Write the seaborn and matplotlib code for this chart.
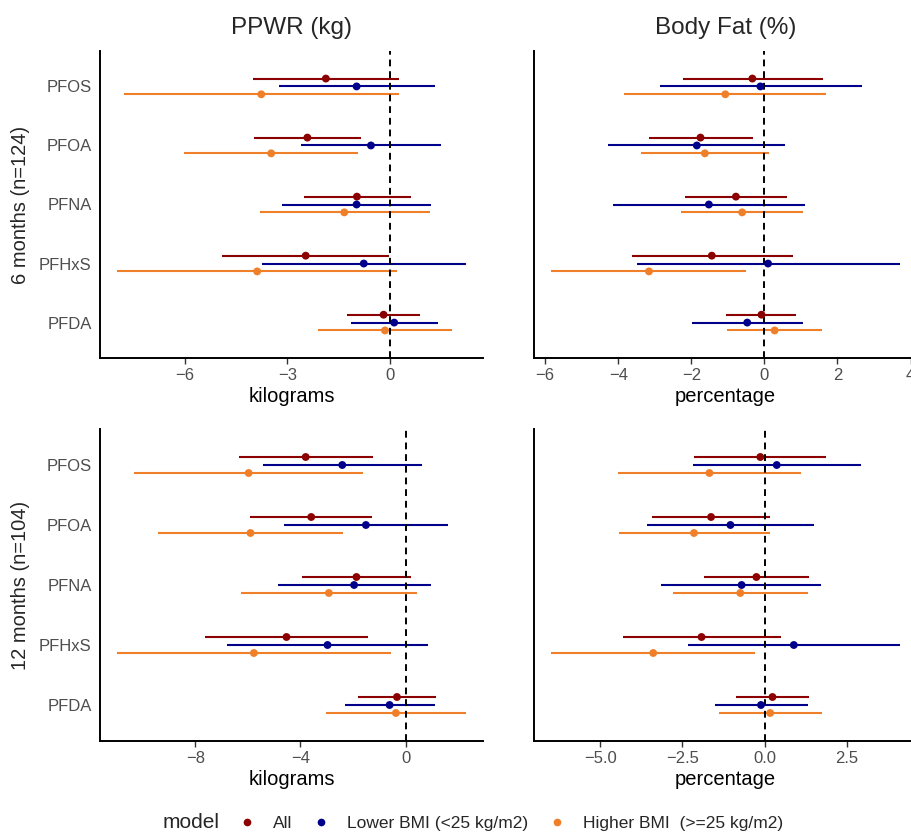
import numpy as np
import pandas as pd
import matplotlib
matplotlib.use("Agg")
import matplotlib.pyplot as plt
import seaborn as sns
from matplotlib.lines import Line2D
from matplotlib.ticker import FuncFormatter

# ---------------- data ----------------
compounds = ["PFOS", "PFOA", "PFNA", "PFHxS", "PFDA"]
models = ["All", "Lower BMI (<25 kg/m2)", "Higher BMI  (>=25 kg/m2)"]
model_colors = ["#8B0000", "#00008B", "#F07F2A"]

outcomes = ["PPWR (kg)", "Body Fat (%)"]
x_labels = ["kilograms", "percentage"]
timepoints = ["6 months (n=124)", "12 months (n=104)"]

# rows: All, Lower BMI, Higher BMI ; columns: compounds
ppwr6_est = [[-1.87, -2.41, -0.96, -2.46, -0.18],
             [-0.97, -0.55, -0.97, -0.76, 0.13],
             [-3.76, -3.47, -1.33, -3.88, -0.14]]
ppwr6_lo = [[-4.00, -3.97, -2.51, -4.90, -1.24],
            [-3.25, -2.59, -3.15, -3.74, -1.13],
            [-7.78, -6.01, -3.81, -7.97, -2.09]]
ppwr6_hi = [[0.26, -0.83, 0.61, -0.02, 0.90],
            [1.32, 1.51, 1.22, 2.22, 1.41],
            [0.27, -0.92, 1.17, 0.22, 1.83]]

bf6_est = [[-0.33, -1.75, -0.78, -1.44, -0.08],
           [-0.11, -1.85, -1.52, 0.10, -0.47],
           [-1.07, -1.63, -0.61, -3.16, 0.28]]
bf6_lo = [[-2.24, -3.15, -2.18, -3.63, -1.04],
          [-2.87, -4.28, -4.14, -3.50, -1.99],
          [-3.83, -3.39, -2.27, -5.83, -1.02]]
bf6_hi = [[1.60, -0.32, 0.62, 0.77, 0.87],
          [2.66, 0.57, 1.11, 3.70, 1.06],
          [1.68, 0.13, 1.05, -0.50, 1.58]]

ppwr12_est = [[-3.80, -3.59, -1.87, -4.53, -0.33],
              [-2.41, -1.51, -1.96, -2.97, -0.61],
              [-5.97, -5.90, -2.92, -5.77, -0.37]]
ppwr12_lo = [[-6.35, -5.90, -3.95, -7.62, -1.80],
             [-5.42, -4.62, -4.87, -6.78, -2.32],
             [-10.34, -9.43, -6.25, -10.96, -3.01]]
ppwr12_hi = [[-1.23, -1.28, 0.22, -1.44, 1.14],
             [0.61, 1.61, 0.96, 0.85, 1.11],
             [-1.63, -2.37, 0.43, -0.56, 2.28]]

bf12_est = [[-0.13, -1.63, -0.25, -1.92, 0.24],
            [0.37, -1.04, -0.70, 0.89, -0.11],
            [-1.68, -2.15, -0.74, -3.39, 0.17]]
bf12_lo = [[-2.15, -3.42, -1.85, -4.30, -0.86],
           [-2.18, -3.59, -3.14, -2.32, -1.52],
           [-4.47, -4.43, -2.79, -6.49, -1.40]]
bf12_hi = [[1.88, 0.16, 1.34, 0.49, 1.35],
           [2.94, 1.51, 1.73, 4.11, 1.31],
           [1.11, 0.15, 1.32, -0.28, 1.76]]

x_ticks = [[-6, -3, 0], [-6, -4, -2, 0, 2, 4], [-8, -4, 0], [-5.0, -2.5, 0.0, 2.5]]

panels = [
    (0, 0, ppwr6_est, ppwr6_lo, ppwr6_hi),
    (0, 1, bf6_est, bf6_lo, bf6_hi),
    (1, 0, ppwr12_est, ppwr12_lo, ppwr12_hi),
    (1, 1, bf12_est, bf12_lo, bf12_hi),
]

# ---------------- build long table ----------------
rows = []
for r, c, est, lo, hi in panels:
    for mi, m in enumerate(models):
        for ci, comp in enumerate(compounds):
            rows.append(dict(row=r, col=c, model=m, compound=comp,
                             est=est[mi][ci], lo=lo[mi][ci], hi=hi[mi][ci]))
df = pd.DataFrame(rows)
dodge = {m: off for m, off in zip(models, [-0.1333, 0.0, 0.1333])}
df["ypos"] = df["compound"].map({c: i for i, c in enumerate(compounds)}) + df["model"].map(dodge)

# ---------------- plotting ----------------
sns.set_theme(style="ticks")
plt.rcParams["font.family"] = ["Liberation Sans", "DejaVu Sans"]

W, H = 911, 832
fig = plt.figure(figsize=(W / 100, H / 100), dpi=100)
palette = dict(zip(models, model_colors))

lefts = [100, 534]
tops = [51, 429]
bottoms = [358, 741]
pw = 383

def fmt_minus(v, pos, dec):
    s = f"{v:.{dec}f}"
    return s.replace("-", "\u2212")

for idx, (r, c, est, lo, hi) in enumerate(panels):
    ax = fig.add_axes([lefts[c] / W, 1 - bottoms[r] / H, pw / W, (bottoms[r] - tops[r]) / H])
    sub = df[(df.row == r) & (df.col == c)]
    for m in models:
        s = sub[sub.model == m]
        ax.hlines(s["ypos"], s["lo"], s["hi"], colors=palette[m], linewidth=1.5, zorder=2)
    ax.axvline(0, color="black", linestyle=(0, (3.5, 2.5)), linewidth=1.4, zorder=3)
    sns.scatterplot(data=sub, x="est", y="ypos", hue="model", hue_order=models,
                    palette=palette, s=32, edgecolor="none", linewidth=0,
                    legend=False, ax=ax, zorder=4)
    dmin, dmax = sub["lo"].min(), sub["hi"].max()
    pad = 0.05 * (dmax - dmin)
    ax.set_xlim(dmin - pad, dmax + pad)
    ax.set_ylim(4.6, -0.6)
    ax.set_xticks(x_ticks[idx])
    dec = 1 if idx == 3 else 0
    ax.xaxis.set_major_formatter(FuncFormatter(lambda v, p, d=dec: fmt_minus(v, p, d)))
    if c == 0:
        ax.set_yticks(range(len(compounds)))
        ax.set_yticklabels(compounds)
    else:
        ax.set_yticks([])
    ax.tick_params(axis="y", length=0, pad=6, labelsize=12, labelcolor="#4D4D4D")
    ax.tick_params(axis="x", length=4, width=1, color="#333333", pad=3,
                   labelsize=12, labelcolor="#4D4D4D")
    for sp in ["top", "right"]:
        ax.spines[sp].set_visible(False)
    for sp in ["left", "bottom"]:
        ax.spines[sp].set_linewidth(1.4)
        ax.spines[sp].set_color("black")
    ax.set_xlabel(x_labels[c], fontsize=14.5, color="black", labelpad=3)
    ax.set_ylabel("")

# column titles
for c, t in enumerate(outcomes):
    fig.text((lefts[c] + pw / 2) / W, 1 - 28 / H, t, ha="center", va="center", fontsize=17.5)
# row labels
for r, t in enumerate(timepoints):
    fig.text(21 / W, 1 - ((tops[r] + bottoms[r]) / 2) / H, t, ha="center", va="center",
             rotation=90, fontsize=14.5)

# legend
handles = [Line2D([], [], marker="o", linestyle="none", markersize=4.5,
                  markerfacecolor=col, markeredgecolor=col) for col in model_colors]
fig.text(163 / W, 1 - 823 / H, "model", ha="left", va="center", fontsize=15)
fig.legend(handles, models, loc="center left", bbox_to_anchor=(238 / W, 1 - 823 / H),
           ncol=3, frameon=False, fontsize=12.5, handletextpad=1.0, columnspacing=1.17,
           handlelength=1.0, borderaxespad=0, borderpad=0)

fig.savefig("out.png", dpi=100)
